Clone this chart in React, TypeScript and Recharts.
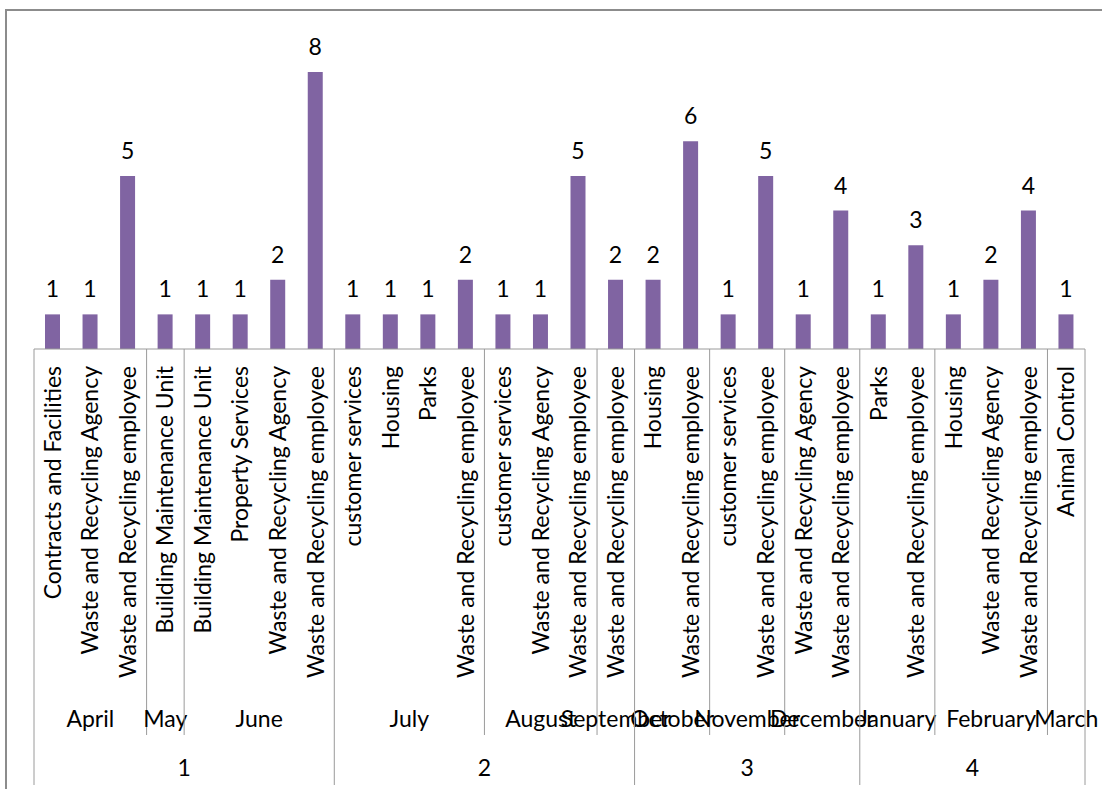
import { BarChart, Bar, XAxis, YAxis, LabelList } from 'recharts';

const departments = [
  'Contracts and Facilities',
  'Waste and Recycling Agency',
  'Waste and Recycling employee',
  'Building Maintenance Unit',
  'Building Maintenance Unit',
  'Property Services',
  'Waste and Recycling Agency',
  'Waste and Recycling employee',
  'customer services',
  'Housing',
  'Parks',
  'Waste and Recycling employee',
  'customer services',
  'Waste and Recycling Agency',
  'Waste and Recycling employee',
  'Waste and Recycling employee',
  'Housing',
  'Waste and Recycling employee',
  'customer services',
  'Waste and Recycling employee',
  'Waste and Recycling Agency',
  'Waste and Recycling employee',
  'Parks',
  'Waste and Recycling employee',
  'Housing',
  'Waste and Recycling Agency',
  'Waste and Recycling employee',
  'Animal Control',
];

const counts = [1, 1, 5, 1, 1, 1, 2, 8, 1, 1, 1, 2, 1, 1, 5, 2, 2, 6, 1, 5, 1, 4, 1, 3, 1, 2, 4, 1];

const months = [
  'April', 'May', 'June', 'July', 'August', 'September',
  'October', 'November', 'December', 'January', 'February', 'March',
];
// number of bars under each month
const monthSizes = [3, 1, 4, 4, 3, 1, 2, 2, 2, 2, 3, 1];

const quarters = ['1', '2', '3', '4'];
// number of months under each quarter
const quarterMonths = [3, 3, 3, 3];

const W = 1102;
const H = 789;
const LEFT = 34;
const RIGHT = 17;
const AXIS_Y = 349;
const TOP = 72;
const FONT = 'Lato, "Open Sans", sans-serif';
const FS = 23;
const LINE = '#9a9a9a';
const SLOT = (W - LEFT - RIGHT) / departments.length;

const rows = departments.map((dept, i) => ({ dept, count: counts[i] }));

const monthGroups = months.map((name, i) => ({
  name,
  start: monthSizes.slice(0, i).reduce((a, b) => a + b, 0),
  size: monthSizes[i],
}));

const quarterGroups = quarters.map((name, qi) => {
  const first = quarterMonths.slice(0, qi).reduce((a, b) => a + b, 0);
  const groups = monthGroups.slice(first, first + quarterMonths[qi]);
  return {
    name,
    start: groups[0].start,
    size: groups.reduce((a, g) => a + g.size, 0),
  };
});

function AxisTick(props: any) {
  const { x, y, payload } = props;
  const i: number = props.index ?? payload.index;
  const left = x - SLOT / 2;
  const ty = y + 17;
  const mg = monthGroups.find((g) => g.start === i);
  const qg = quarterGroups.find((g) => g.start === i);
  const last = i === departments.length - 1;
  return (
    <g>
      <text
        x={x}
        y={ty}
        transform={`rotate(-90 ${x} ${ty})`}
        textAnchor="end"
        dy="0.35em"
        fontSize={FS}
        fontFamily={FONT}
        fill="#000"
      >
        {departments[i]}
      </text>
      {mg && (
        <>
          {!qg && <line x1={left} x2={left} y1={y} y2={y + 386} stroke={LINE} />}
          <text
            x={left + (mg.size * SLOT) / 2}
            y={y + 378}
            textAnchor="middle"
            fontSize={FS}
            fontFamily={FONT}
            fill="#000"
          >
            {mg.name}
          </text>
        </>
      )}
      {qg && (
        <>
          <line x1={left} x2={left} y1={y} y2={y + 436} stroke={LINE} />
          <text
            x={left + (qg.size * SLOT) / 2}
            y={y + 427}
            textAnchor="middle"
            fontSize={FS}
            fontFamily={FONT}
            fill="#000"
          >
            {qg.name}
          </text>
        </>
      )}
      {last && <line x1={x + SLOT / 2} x2={x + SLOT / 2} y1={y} y2={y + 436} stroke={LINE} />}
    </g>
  );
}

export default function App() {
  return (
    <div
      style={{
        position: 'absolute',
        left: 0,
        top: 0,
        width: W,
        height: H,
        overflow: 'hidden',
        background: '#fff',
      }}
    >
      <div
        style={{
          position: 'absolute',
          left: 5,
          top: 9,
          width: W + 50,
          height: H + 50,
          border: '2px solid #8c8c8c',
        }}
      />
      <div style={{ position: 'absolute', left: 0, top: 0 }}>
        <BarChart
          width={W}
          height={H}
          data={rows}
          margin={{ top: TOP, right: RIGHT, left: LEFT, bottom: 0 }}
        >
          <YAxis hide domain={[0, 8]} />
          <XAxis
            dataKey="dept"
            interval={0}
            height={H - AXIS_Y}
            tickLine={false}
            tickSize={0}
            tickMargin={0}
            axisLine={{ stroke: LINE }}
            tick={<AxisTick />}
          />
          <Bar dataKey="count" fill="#8064A2" barSize={15} isAnimationActive={false}>
            <LabelList
              dataKey="count"
              position="top"
              offset={17}
              fontSize={FS}
              fontFamily={FONT}
              fill="#000"
            />
          </Bar>
        </BarChart>
      </div>
    </div>
  );
}
